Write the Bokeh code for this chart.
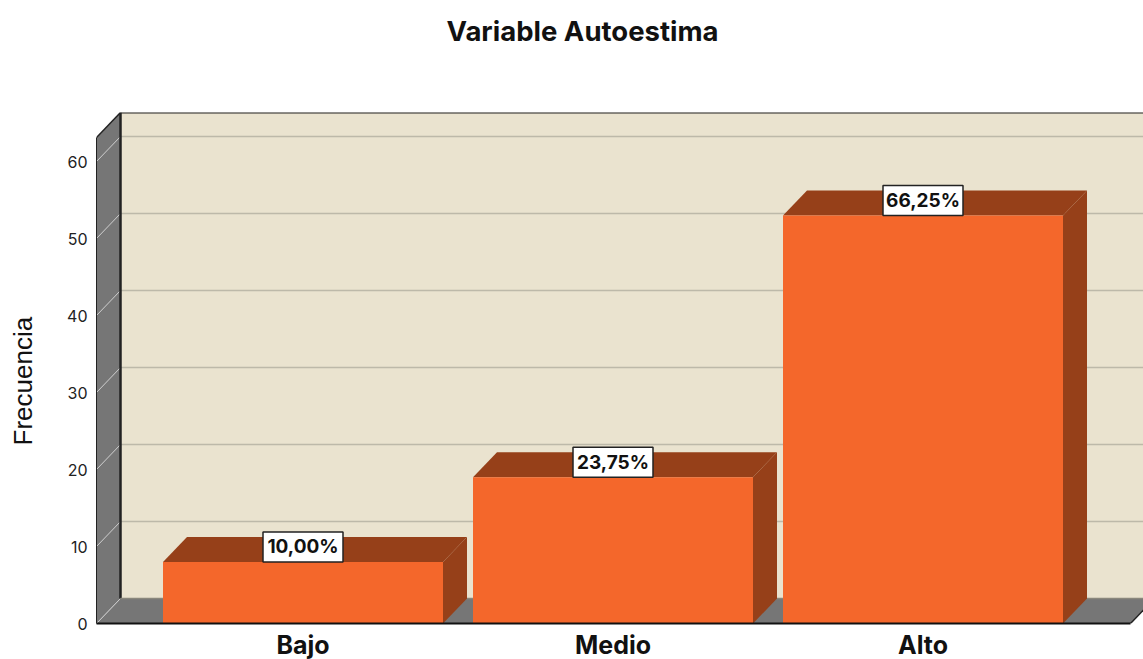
from bokeh.plotting import figure
from bokeh.embed import file_html
from bokeh.resources import INLINE
from bokeh.models import Title
from bokeh.core.properties import value

categories = ["Bajo", "Medio", "Alto"]
frequencies = [8, 19, 53]
percent_labels = ["10,00%", "23,75%", "66,25%"]
y_ticks = [0, 10, 20, 30, 40, 50, 60]
positions = [1, 2, 3]

BEIGE = "#EAE3CF"
GREY = "#767676"
ORANGE = "#F4672B"
BROWN = "#964019"
FONT = "Inter"

# pixel scales of the frame
PX_X = 310.0
PX_Y = 7.7
DX = 24 / PX_X
DY = 25 / PX_Y
BAR_W = 280 / PX_X
FRAME_W = 1047
FRAME_H = 511
x_start = 1 - 206.5 / PX_X
x_end = x_start + FRAME_W / PX_X
y_end = FRAME_H / PX_Y
wall_top = y_end - DY
floor_end = x_start + 1034 / PX_X

p = figure(width=1143, height=659, output_backend="svg", toolbar_location=None,
           x_range=(x_start, x_end), y_range=(0, y_end),
           frame_width=FRAME_W, frame_height=FRAME_H,
           min_border_left=96, min_border_right=0, min_border_top=112, min_border_bottom=36,
           outline_line_color=None, background_fill_color="white", border_fill_color="white")
p.grid.visible = False

# walls and floor
p.patch([x_start + DX, floor_end + DX, floor_end + DX, x_start + DX], [DY, DY, y_end, y_end],
        fill_color=BEIGE, line_color=None)
p.patch([x_start, x_start + DX, x_start + DX, x_start], [0, DY, y_end, wall_top],
        fill_color=GREY, line_color=None)
p.patch([x_start, floor_end, floor_end + DX, x_start + DX], [0, 0, DY, DY],
        fill_color=GREY, line_color=None)

# grid lines: back wall, then side wall
back_ticks = [t for t in y_ticks if t > 0]
p.segment([x_start + DX] * len(back_ticks), [t + DY for t in back_ticks],
          [floor_end + DX] * len(back_ticks), [t + DY for t in back_ticks],
          line_color="#BDB9A9", line_width=1.5)
p.segment([x_start] * len(y_ticks), y_ticks,
          [x_start + DX] * len(y_ticks), [t + DY for t in y_ticks],
          line_color="#CFCFCF", line_width=1)

# frame edges
p.line([x_start + DX, floor_end + DX], [y_end, y_end], line_color="#222222", line_width=2)
p.line([x_start + DX, x_start + DX], [DY, y_end], line_color="#222222", line_width=2.5)
p.line([x_start + DX, floor_end + DX], [DY, DY], line_color="#8A877C", line_width=1.5)
p.line([x_start, x_start + DX], [wall_top, y_end], line_color="#222222", line_width=1.5)
p.line([floor_end, floor_end + DX], [0, DY], line_color="#222222", line_width=1.5)

# bars
for x, v in zip(positions, frequencies):
    l, r = x - BAR_W / 2, x + BAR_W / 2
    p.patch([r, r + DX, r + DX, r], [0, DY, v + DY, v], fill_color=BROWN, line_color=None)
    p.patch([l, r, r + DX, l + DX], [v, v, v + DY, v + DY], fill_color=BROWN, line_color=None)
p.vbar(x=positions, top=frequencies, bottom=0, width=BAR_W, fill_color=ORANGE, line_color=None)

# value labels
label_y = [v + 15 / PX_Y for v in frequencies]
p.rect(x=positions, y=label_y, width=80, height=30, width_units="screen", height_units="screen",
       fill_color="white", line_color="#222222", line_width=1.5)
p.text(x=positions, y=label_y, text=percent_labels, text_align="center", text_baseline="middle",
       text_font=value(FONT), text_font_style="bold", text_font_size="19px", text_color="#111111")

# axes
p.yaxis.bounds = (0, wall_top)
p.yaxis.ticker = y_ticks
p.yaxis.axis_line_color = "#222222"
p.yaxis.major_tick_line_color = None
p.yaxis.minor_tick_line_color = None
p.yaxis.major_tick_out = 0
p.yaxis.major_tick_in = 0
p.yaxis.major_label_text_font = FONT
p.yaxis.major_label_text_font_size = "16px"
p.yaxis.major_label_text_color = "#222222"
p.yaxis.major_label_standoff = 9

# blank spacers hold the two outer texts away from the frame
p.add_layout(Title(text=" ", standoff=12, text_font_size="10px"), "left")
p.add_layout(Title(text="Frecuencia", align="left", offset=178, standoff=0, vertical_align="top",
                   text_font="Liberation Sans", text_font_style="normal",
                   text_font_size="26px", text_color="#111111"), "left")

p.xaxis.bounds = (x_start, floor_end)
p.xaxis.ticker = positions
p.xaxis.major_label_overrides = dict(zip(positions, categories))
p.xaxis.axis_line_color = "#111111"
p.xaxis.axis_line_width = 2
p.xaxis.major_tick_line_color = None
p.xaxis.minor_tick_line_color = None
p.xaxis.major_tick_out = 0
p.xaxis.major_tick_in = 0
p.xaxis.major_label_text_font = FONT
p.xaxis.major_label_text_font_style = "bold"
p.xaxis.major_label_text_font_size = "25px"
p.xaxis.major_label_text_color = "#111111"
p.xaxis.major_label_standoff = 6

p.add_layout(Title(text=" ", standoff=50, text_font_size="10px"), "above")
p.title = Title(text="Variable Autoestima", align="left", offset=350, standoff=0, vertical_align="top",
                text_font=FONT, text_font_style="bold", text_font_size="27.5px", text_color="#111111")

open("out.html", "w").write(file_html(p, INLINE))
